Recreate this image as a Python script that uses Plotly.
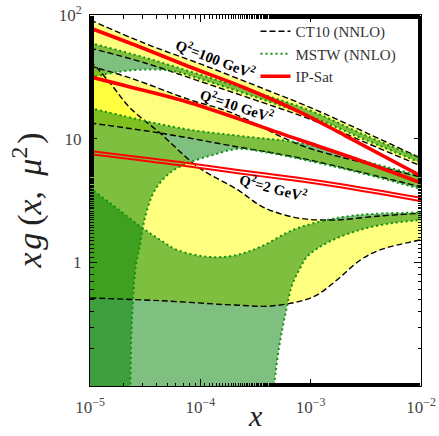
import plotly.graph_objects as go

# ---------------- data ----------------
# CT10 (NNLO), Q^2 = 100 GeV^2
ct100_x = [1e-5, 3.16e-5, 1e-4, 3.16e-4, 1e-3, 3.16e-3, 1e-2]
ct100_up = [91.2, 58.8, 40.2, 26.9, 17.8, 11.2, 6.95]
ct100_lo = [54.1, 40.9, 29.0, 20.5, 14.3, 9.29, 6.01]
# MSTW (NNLO), Q^2 = 100 GeV^2
ms100_up_x = [1e-5, 3.16e-5, 1e-4, 3.16e-4, 1e-3, 3.16e-3, 1e-2]
ms100_up = [59.4, 45.2, 32.9, 23.8, 16.8, 10.6, 6.9]
ms100_lo_x = [1e-5, 1.78e-5, 3.16e-5, 5.62e-5, 1e-4, 3.16e-4, 1e-3, 3.16e-3, 1e-2]
ms100_lo = [31.0, 34.6, 36.2, 35.3, 30.4, 21.7, 15.1, 9.76, 6.37]

# CT10, Q^2 = 10 GeV^2
ct10_up_x = [1e-5, 2.31e-5, 8.05e-5, 1.86e-4, 8.0e-4, 2.80e-3, 1e-2]
ct10_up = [38.7, 31.0, 20.6, 16.4, 8.9, 6.48, 4.90]
ct10_lo_x = [1e-5, 4.31e-5, 2.19e-4, 8.0e-4, 2.80e-3, 1e-2]
ct10_lo = [13.4, 11.1, 8.57, 6.98, 5.38, 4.07]
# MSTW, Q^2 = 10 GeV^2
ms10_up_x = [1e-5, 3.57e-5, 8.05e-5, 2.82e-4, 8.0e-4, 2.80e-3, 1e-2]
ms10_up = [17.7, 13.6, 11.8, 10.3, 9.23, 6.73, 4.99]
ms10_lo_x = [1e-5, 2.19e-5, 2.31e-5, 2.36e-5, 2.45e-5, 2.61e-5, 2.84e-5, 3.02e-5,
             3.29e-5, 3.88e-5, 5.42e-5, 8.22e-5, 1.30e-4, 2.19e-4, 4.28e-4, 8.0e-4,
             1.85e-3, 4.25e-3, 1e-2]
ms10_lo = [0.02, 0.04, 0.09, 0.236, 0.497, 0.953, 1.38, 1.93, 2.65, 3.85, 5.38,
           6.48, 7.38, 8.26, 7.66, 6.85, 5.8, 4.81, 3.92]

# CT10, Q^2 = 2 GeV^2
ct2_up_x = [1e-5, 1.52e-5, 2.31e-5, 4.31e-5, 9.53e-5, 2.19e-4, 3.70e-4, 7.52e-4,
            1.58e-3, 4.25e-3, 1e-2]
ct2_up = [43.3, 28.2, 17.7, 11.1, 5.9, 3.85, 2.8, 2.29, 2.2, 2.37, 2.5]
ct2_lo_x = [1e-5, 4.31e-5, 2.19e-4, 4.56e-4, 1.05e-3, 1.73e-3, 2.80e-3, 4.25e-3, 1e-2]
ct2_lo = [0.515, 0.49, 0.45, 0.445, 0.525, 0.72, 1.04, 1.26, 1.52]
# MSTW, Q^2 = 2 GeV^2
ms2_up_x = [1e-5, 1.69e-5, 2.90e-5, 4.31e-5, 6.15e-5, 1.15e-4, 1.98e-4, 3.48e-4,
            6.92e-4, 1.41e-3, 2.80e-3, 1e-2]
ms2_up = [4.0, 2.8, 1.93, 1.52, 1.26, 1.11, 1.13, 1.33, 1.83, 2.2, 2.42, 2.53]
ms2_lo_x = [1e-5, 4.37e-4, 4.68e-4, 5.01e-4, 5.50e-4, 6.10e-4, 6.76e-4, 7.94e-4,
            9.27e-4, 1.41e-3, 2.80e-3, 5.57e-3, 1e-2]
ms2_lo = [0.01, 0.03, 0.1, 0.17, 0.28, 0.44, 0.65, 0.88, 1.11, 1.44, 1.83, 2.08, 2.2]

# IP-Sat
ip100_x = [1e-5, 2.84e-5, 8.05e-5, 2.54e-4, 8.0e-4, 2.05e-3, 1e-2]
ip100_y = [78.5, 55.1, 38.0, 25.7, 16.4, 10.6, 4.99]
ip10_x = [1e-5, 2.31e-5, 8.05e-5, 8.0e-4, 2.28e-3, 1e-2]
ip10_y = [31.6, 26.2, 19.5, 9.75, 7.1, 4.39]
ip2_x = [1e-5, 6.55e-5, 2.19e-4, 8.0e-4, 1.85e-3, 1e-2]
ip2_a = [7.96, 6.48, 5.59, 4.81, 4.30, 3.32]
ip2_b = [7.50, 6.10, 5.25, 4.52, 4.04, 3.12]

band_labels = ["<b>Q<sup>2</sup>=100 GeV<sup>2</sup></b>",
               "<b>Q<sup>2</sup>=10 GeV<sup>2</sup></b>",
               "<b>Q<sup>2</sup>=2 GeV<sup>2</sup></b>"]
x_tickvals = [1e-5, 1e-4, 1e-3, 1e-2]
x_ticktext = ["10<sup>\u22125</sup>", "10<sup>\u22124</sup>", "10<sup>\u22123</sup>", "10<sup>\u22122</sup>"]
y_tickvals = [1, 10, 100]
y_ticktext = ["1", "10", "10<sup>2</sup>"]
x_title = "<i>x</i>"
y_title = "<i>x</i>\u200a<i>g</i>\u2009(<i>x</i>,\u2009 <i>\u03bc</i><sup>2</sup>\u200a)"

# ---------------- styling ----------------
YELLOW = "rgba(255,255,0,0.5)"
GREEN = "rgba(0,128,0,0.5)"
SERIF = "Liberation Serif"
SHAPE = "spline"

fig = go.Figure()


def band(xl, yl, xu, yu, color):
    fig.add_trace(go.Scatter(x=xl, y=yl, mode="lines", line=dict(width=0, shape=SHAPE),
                             showlegend=False, hoverinfo="skip"))
    fig.add_trace(go.Scatter(x=xu, y=yu, mode="lines", line=dict(width=0, shape=SHAPE),
                             fill="tonexty", fillcolor=color, showlegend=False,
                             hoverinfo="skip"))


def edge(x, y, color, width, dash, name=None, show=False):
    fig.add_trace(go.Scatter(x=x, y=y, mode="lines",
                             line=dict(color=color, width=width, dash=dash, shape=SHAPE),
                             name=name, showlegend=show, hoverinfo="skip"))


# CT10 bands (yellow)
band(ct100_x, ct100_lo, ct100_x, ct100_up, YELLOW)
band(ct10_lo_x, ct10_lo, ct10_up_x, ct10_up, YELLOW)
band(ct2_lo_x, ct2_lo, ct2_up_x, ct2_up, YELLOW)
# MSTW bands (green)
band(ms100_lo_x, ms100_lo, ms100_up_x, ms100_up, GREEN)
band(ms10_lo_x, ms10_lo, ms10_up_x, ms10_up, GREEN)
band(ms2_lo_x, ms2_lo, ms2_up_x, ms2_up, GREEN)

DASH = "6px,3px"
DOT = "2px,3px"
DOTC = "#109010"
# CT10 edges
edge(ct100_x, ct100_up, "black", 1.4, DASH, "CT10 (NNLO)", True)
edge(ct100_x, ct100_lo, "black", 1.4, DASH)
edge(ct10_up_x, ct10_up, "black", 1.4, DASH)
edge(ct10_lo_x, ct10_lo, "black", 1.4, DASH)
edge(ct2_up_x, ct2_up, "black", 1.4, DASH)
edge(ct2_lo_x, ct2_lo, "black", 1.4, DASH)
# MSTW edges
edge(ms100_up_x, ms100_up, DOTC, 2, DOT, "MSTW (NNLO)", True)
edge(ms100_lo_x, ms100_lo, DOTC, 2, DOT)
edge(ms10_up_x, ms10_up, DOTC, 2, DOT)
edge(ms10_lo_x, ms10_lo, DOTC, 2, DOT)
edge(ms2_up_x, ms2_up, DOTC, 2, DOT)
edge(ms2_lo_x, ms2_lo, DOTC, 2, DOT)
# IP-Sat
edge(ip100_x, ip100_y, "#ff0000", 3.6, "solid", "IP-Sat", True)
edge(ip10_x, ip10_y, "#ff0000", 3.6, "solid")
edge(ip2_x, ip2_a, "#ff0000", 2, "solid")
edge(ip2_x, ip2_b, "#ff0000", 2, "solid")

# curve labels (x, y in log10 units for log axes)
label_pos = [(-3.867, 1.652, 21), (-3.668, 1.272, 18), (-3.341, 0.610, 15)]
for txt, (lx, ly, ang) in zip(band_labels, label_pos):
    fig.add_annotation(x=lx, y=ly, xref="x", yref="y", text=txt, showarrow=False,
                       textangle=ang, font=dict(family=SERIF, size=14.5, color="black"))

# axis titles as paper annotations
fig.add_annotation(x=0.4985, y=-0.128, xref="paper", yref="paper", text=x_title,
                   xanchor="center", yanchor="bottom", borderpad=0,
                   showarrow=False, font=dict(family=SERIF, size=30, color="#222"))
fig.add_annotation(x=-0.19, y=0.50, xref="paper", yref="paper", text=y_title,
                   xanchor="center", yanchor="middle", showarrow=False, textangle=-90,
                   font=dict(family=SERIF, size=34, color="#222"))

axis_common = dict(
    type="log", showline=True, linecolor="black", linewidth=1, mirror="allticks",
    ticks="inside", ticklen=7, tickwidth=1, tickcolor="black", showgrid=False,
    zeroline=False, tickfont=dict(family=SERIF, size=17, color="#444"),
    minor=dict(ticks="inside", ticklen=3.5, tickcolor="black", showgrid=False),
    automargin=False,
)

fig.update_layout(
    width=439, height=436,
    margin=dict(l=90, r=18, t=15, b=50),
    paper_bgcolor="white", plot_bgcolor="white",
    xaxis=dict(range=[-5, -2], tickvals=x_tickvals, ticktext=x_ticktext,
               ticklabelstandoff=6, **axis_common),
    yaxis=dict(range=[-1, 2], tickvals=y_tickvals, ticktext=y_ticktext,
               ticklabelstandoff=4, **axis_common),
    legend=dict(x=0.50, xanchor="left", y=1.0, yanchor="top", traceorder="normal",
                bgcolor="rgba(0,0,0,0)", font=dict(family=SERIF, size=15, color="#333"),
                tracegroupgap=0, itemwidth=30),
    showlegend=True,
)

fig.write_html("out.html")
